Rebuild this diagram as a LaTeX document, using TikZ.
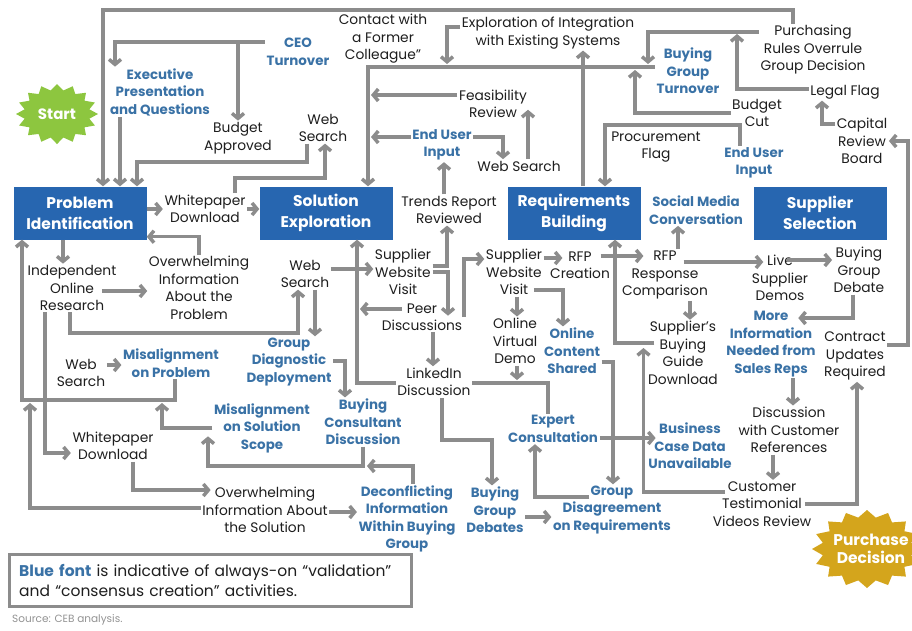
\documentclass[tikz,border=0pt]{standalone}
\usepackage{fontspec}
\setmainfont{Poppins}
\usetikzlibrary{arrows.meta}

\definecolor{stagec}{HTML}{2766B0}
\definecolor{bluet}{HTML}{3A72A6}
\definecolor{linec}{HTML}{8C8C8C}
\definecolor{txtc}{HTML}{1E1E1E}
\definecolor{startc}{HTML}{8DC63F}
\definecolor{goldc}{HTML}{D4A51C}

\tikzset{
  lbl/.style={align=center, text=txtc, inner sep=1.5pt, font=\fontsize{13.8}{17.5}\selectfont},
  vlbl/.style={lbl, text=bluet, font=\fontsize{13.4}{17.5}\selectfont\bfseries},
  stage/.style={fill=stagec, text=white, align=center, minimum width=133pt, minimum height=53pt,
    inner sep=0pt, font=\fontsize{15.5}{21}\selectfont\bfseries},
  flow/.style={draw=linec, line width=3.5pt, -{Straight Barb[length=5pt,width=12pt]}},
  plain/.style={draw=linec, line width=3.5pt},
}

\begin{document}
\begin{tikzpicture}[x=1pt,y=-1pt]
\useasboundingbox (0,0) rectangle (912,630);
\fill[white] (0,0) rectangle (912,630);

% start and end bursts
\fill[startc] plot[samples at={0,...,31}]
  ({57+ifthenelse(mod(\x,2)==0,41,33)*cos(\x*360/32)},
   {114+ifthenelse(mod(\x,2)==0,30,24)*sin(\x*360/32)}) -- cycle;
\node[text=white, font=\fontsize{15}{18}\selectfont\bfseries] (start) at (57,114) {Start};
\fill[goldc] plot[samples at={0,...,31}]
  ({867+ifthenelse(mod(\x,2)==0,55,45)*cos(\x*360/32)},
   {549+ifthenelse(mod(\x,2)==0,39,32)*sin(\x*360/32)}) -- cycle;
\node[text=white, align=center, font=\fontsize{15.5}{18.5}\selectfont\bfseries] (purchase) at (871,549) {Purchase\\Decision};

% stages
\node[stage] (pi) at (80,213) {Problem\\Identification};
\node[stage] (se) at (326,213) {Solution\\Exploration};
\node[stage] (rb) at (574,213) {Requirements\\Building};
\node[stage] (ss) at (820,213) {Supplier\\Selection};

% activities, upper band
\node[vlbl] (ceo) at (298,52) {CEO\\Turnover};
\node[vlbl] (exec) at (160,92) {Executive\\Presentation\\and Questions};
\node[lbl] (budgetA) at (238,138) {Budget\\Approved};
\node[lbl] (ws1) at (323,128) {Web\\Search};
\node[lbl] (contact) at (383,39) {Contact with\\a Former\\Colleague”};
\node[lbl] (explint) at (548,33) {Exploration of Integration\\with Existing Systems};
\node[vlbl] (bgt) at (688,71) {Buying\\Group\\Turnover};
\node[lbl] (purch) at (813,50) {Purchasing\\Rules Overrule\\Group Decision};
\node[lbl] (legal) at (845,92) {Legal Flag};
\node[lbl] (feas) at (493,104) {Feasibility\\Review};
\node[vlbl] (eui1) at (442,145) {End User\\Input};
\node[lbl] (ws2) at (519,166) {Web Search};
\node[lbl] (budgetC) at (757,113) {Budget\\Cut};
\node[lbl] (capital) at (862,141) {Capital\\Review\\Board};
\node[lbl] (procure) at (656,147) {Procurement\\Flag};
\node[vlbl] (eui2) at (754,163) {End User\\Input};
\node[lbl] (wpd1) at (205,209) {Whitepaper\\Download};
\node[lbl] (trends) at (449,210) {Trends Report\\Reviewed};
\node[vlbl] (social) at (696,210) {Social Media\\Conversation};

% activities, lower band
\node[lbl] (ior) at (72,288) {Independent\\Online\\Research};
\node[lbl] (oip) at (199,288) {Overwhelming\\Information\\About the\\Problem};
\node[lbl] (ws3) at (305,274) {Web\\Search};
\node[lbl] (swv1) at (403,272) {Supplier\\Website\\Visit};
\node[lbl] (peer) at (422,317) {Peer\\Discussions};
\node[lbl] (linked) at (434,382) {LinkedIn\\Discussion};
\node[lbl] (swv2) at (514,272) {Supplier\\Website\\Visit};
\node[lbl] (rfpc) at (580,265) {RFP\\Creation};
\node[lbl] (ovd) at (515,341) {Online\\Virtual\\Demo};
\node[vlbl] (ocs) at (572,351) {Online\\Content\\Shared};
\node[lbl] (rfpr) at (665,275) {RFP\\Response\\Comparison};
\node[lbl] (live) at (780,278) {Live\\Supplier\\Demos};
\node[lbl] (bgd) at (859,270) {Buying\\Group\\Debate};
\node[lbl] (sbg) at (683,353) {Supplier’s\\Buying\\Guide\\Download};
\node[vlbl] (more) at (771,344) {More\\Information\\Needed from\\Sales Reps};
\node[lbl] (contract) at (855,356) {Contract\\Updates\\Required};
\node[lbl] (disc) at (789,430) {Discussion\\with Customer\\References};
\node[lbl] (ctv) at (762,504) {Customer\\Testimonial\\Videos Review};
\node[vlbl] (bcd) at (690,446) {Business\\Case Data\\Unavailable};
\node[vlbl] (expert) at (553,429) {Expert\\Consultation};
\node[vlbl] (gdr) at (612,510) {Group\\Disagreement\\on Requirements};
\node[vlbl] (bgdb) at (495,510) {Buying\\Group\\Debates};
\node[vlbl] (decon) at (407,519) {Deconflicting\\Information\\Within Buying\\Group};
\node[lbl] (ois) at (265,510) {Overwhelming\\Information About\\the Solution};
\node[lbl] (wpd2) at (113,446) {Whitepaper\\Download};
\node[lbl] (ws4) at (81,373) {Web\\Search};
\node[vlbl] (mop) at (171,363) {Misalignment\\on Problem};
\node[vlbl] (gdd) at (289,362) {Group\\Diagnostic\\Deployment};
\node[vlbl] (moss) at (262,428) {Misalignment\\on Solution\\Scope};
\node[vlbl] (bcdisc) at (363,422) {Buying\\Consultant\\Discussion};

% junctions where an arrow meets another line
\coordinate (jbgt) at (648,64);
\coordinate (jexp) at (447,64);
\coordinate (jbc) at (635,70);
\coordinate (jlegal) at (737,34);
\coordinate (jfeas) at (371,95);
\coordinate (jeui) at (371,137);
\coordinate (jois) at (30,403);
\coordinate (jmoss) at (162,403);
\coordinate (bcbend) at (363,466);
\coordinate (jdecon) at (367,466);
\coordinate (jpeer) at (360,309);
\coordinate (jovd) at (517,380);

% connectors, upper band
\draw[flow] ([xshift=-20pt]purch.north) |- (103,10) -- ([xshift=23pt]pi.north);
\draw[flow] ([yshift=10pt]ceo.west) -| ([xshift=-45pt]exec.north);
\draw[flow] ([yshift=10pt]ceo.west) -| (budgetA.north);
\draw[flow] ([xshift=-40pt]exec.south) -- ([xshift=40pt]pi.north);
\draw[flow] ([xshift=-16pt]ws1.south) |- (137,162) -- ([xshift=57pt]pi.north);
\draw[flow] ([xshift=30pt]wpd1.north) |- (325,178) -- ([xshift=2pt]ws1.south);
\draw[flow] ([yshift=4pt]pi.east) -- (wpd1.west);
\draw[flow] (wpd1.east) -- ([yshift=4pt]se.west);
\draw[flow] ([yshift=4pt]bgt.west) -| ([xshift=42pt]se.north);
\draw[flow] ([yshift=18pt]purch.west) -| (jbgt);
\draw[flow] ([yshift=6pt]explint.west) -| (jexp);
\draw[flow] (budgetC.west) -| (jbc);
\draw[flow] ([yshift=3pt]legal.west) -| (jlegal);
\draw[flow] ([yshift=17pt]capital.west) -| ([xshift=-23pt]legal.south);
\draw[flow] ([yshift=11pt]contract.east) -| (908,141) -- (capital.east);
\draw[flow] ([xshift=-14pt]eui2.north) |- (605,125) -- ([xshift=31pt]rb.north);
\draw[flow] ([xshift=9pt]rb.north) -- ([xshift=35pt]explint.south);
\draw[flow] ([yshift=9pt]feas.west) -- (jfeas);
\draw[flow] ([yshift=8pt]eui1.west) -- (jeui);
\draw[flow] ([yshift=8pt]eui1.east) -| ([xshift=-16pt]ws2.north);
\draw[flow] ([xshift=9pt]ws2.north) -- ([xshift=35pt,yshift=10pt]feas.south);
\draw[flow] ([xshift=-5pt]trends.north) -- ([xshift=2pt]eui1.south);

% connectors, left part
\draw[flow] ([xshift=-17pt]pi.south) -- ([xshift=-9pt]ior.north);
\draw[flow] (oip.north) |- ([yshift=3pt]pi.south east);
\draw[flow] ([xshift=-16pt,yshift=-3pt]ior.east) -- ([yshift=-3pt]oip.west);
\draw[flow] ([xshift=-2pt]ior.south) |- (298,333) -- ([xshift=-7pt]ws3.south);
\draw[flow] ([xshift=10pt]ws3.south) -- ([xshift=26pt]gdd.north);
\draw[flow] ([yshift=5pt]ws3.east) -- ([yshift=3pt]swv1.west);
\draw[flow] ([xshift=-27pt]ior.south) |- ([yshift=-7pt]wpd2.west);
\draw[flow] ([yshift=2pt]ois.west) -| (jois);
\draw[flow] ([xshift=4pt]mop.south) |- (22,400) -- ([xshift=-58pt]pi.south);
\draw[flow] ([yshift=8pt]ws4.east) -- ([yshift=-2pt]mop.west);
\draw[flow] (moss.west) -| (jmoss);
\draw[flow] (bcdisc.south) -- (bcbend) -| ([xshift=-54pt,yshift=18pt]moss.south);
\draw[flow] ([xshift=6pt]decon.north) |- (jdecon);
\draw[flow] ([xshift=20pt]wpd2.south) |- ([xshift=10pt,yshift=20pt]ois.west);
\draw[flow] ([yshift=-2pt]ois.east) -- ([yshift=7pt]decon.west);
\draw[flow] ([yshift=1pt]gdd.east) -| ([xshift=-18pt]bcdisc.north);

% connectors, middle and right
\draw[flow] ([yshift=-1pt]linked.west) -| ([xshift=31pt]se.south);
\draw[flow] ([xshift=22pt,yshift=8pt]peer.west) -- (jpeer);
\draw[flow] (swv1.east) -| ([xshift=26pt,yshift=-14pt]peer.north);
\draw[flow] ([yshift=6pt]swv1.east) -| ([xshift=-2pt]trends.south);
\draw[flow] ([xshift=11pt]peer.south) -- ([xshift=-1pt]linked.north);
\draw[flow] (peer.east) |- ([yshift=13pt]swv2.west);
\draw[flow] ([yshift=14pt]swv2.east) -- ([xshift=14pt,yshift=7pt]rfpc.west);
\draw[flow] ([xshift=3pt]swv2.south) -- ([xshift=2pt]ovd.north);
\draw[flow] ([xshift=-10pt,yshift=-18pt]swv2.east) -| ([xshift=-9pt]ocs.north);
\draw[flow] ([xshift=8pt,yshift=10pt]sbg.west) -| ([xshift=41pt]rb.south);
\draw[flow] ([xshift=-11pt,yshift=9pt]rfpc.east) -- ([xshift=23pt,yshift=19pt]rfpr.west);
\draw[flow] ([xshift=13pt]rfpr.north) -- ([xshift=-18pt]social.south);
\draw[flow] ([xshift=-26pt,yshift=13pt]rfpr.east) -- ([xshift=13pt,yshift=16pt]live.west);
\draw[flow] ([xshift=-23pt,yshift=18pt]live.east) -- ([yshift=10pt]bgd.west);
\draw[flow] ([xshift=25pt]rfpr.south) -- ([xshift=7pt]sbg.north);
\draw[flow] ([xshift=-6pt]bgd.south) |- ([xshift=-19pt,yshift=26pt]more.east);
\draw[flow] ([xshift=22pt]more.south) -- ([xshift=4pt]disc.north);
\draw[flow] ([xshift=-16pt]disc.south) -- ([xshift=11pt]ctv.north);
\draw[flow] ([xshift=-8pt]ctv.east) -| ([xshift=2pt]contract.south);
\draw[flow] ([xshift=14pt,yshift=12pt]ctv.west) -| ([xshift=-3pt,yshift=5pt]sbg.west);
\draw[flow] ([yshift=-9pt]expert.east) -- ([xshift=9pt,yshift=8pt]bcd.west);
\draw[flow] ([yshift=-11pt]ocs.east) -| ([xshift=1pt]gdr.north);
\draw[plain] ([yshift=-1pt]linked.east) -| ([xshift=-5pt]expert.north);
\draw[flow] ([xshift=2pt]ovd.south) -- (jovd);
\draw[flow] ([xshift=8pt]linked.south) |- (492,440) -- ([xshift=-3pt]bgdb.north);
\draw[flow] ([yshift=-7pt]bgdb.east) -- ([yshift=-7pt]gdr.west);
\draw[flow] ([xshift=38pt,yshift=13pt]gdr.west) -| ([xshift=-18pt]expert.south);

% key and source line
\node[draw=linec, line width=2.5pt, anchor=north west, text width=382pt, align=left,
      minimum height=52pt, inner xsep=10pt, inner ysep=5pt, text=txtc,
      font=\fontsize{15.5}{20}\selectfont] (key) at (8,553)
  {{\color{bluet}\bfseries Blue font} is indicative of always-on “validation”\\and “consensus creation” activities.};
\node[anchor=west, text=gray!85, inner sep=0pt, font=\fontsize{10.5}{12}\selectfont] (src) at (12,620) {Source: CEB analysis.};
\end{tikzpicture}
\end{document}
